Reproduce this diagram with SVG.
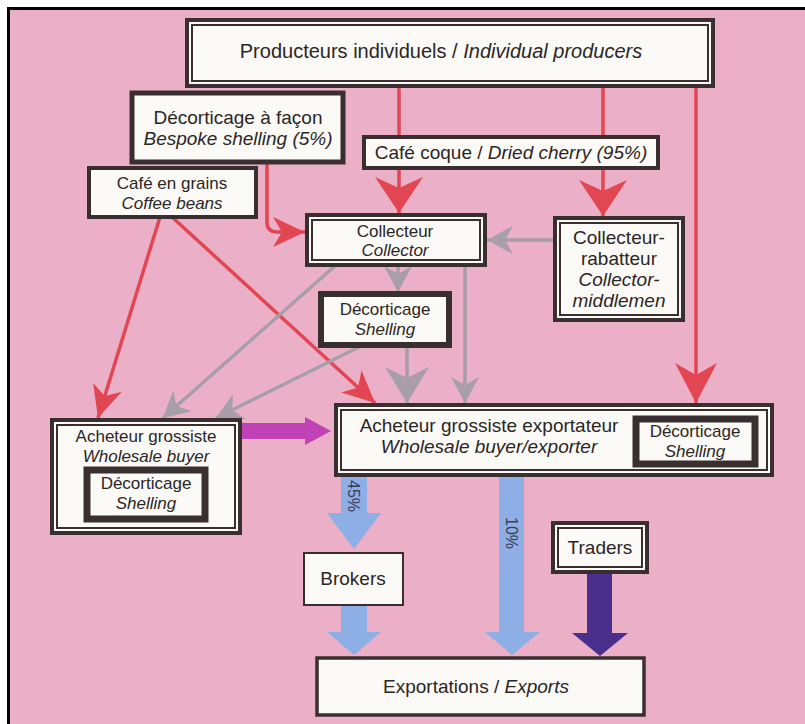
<svg xmlns="http://www.w3.org/2000/svg" width="805" height="724" viewBox="0 0 805 724">
<style>
text{font-family:"Liberation Sans",Arial,sans-serif;font-size:19px;fill:#2b2626;text-anchor:middle}
.s{font-size:17px}
.i{font-style:italic}
.box{fill:#fbfaf6;stroke:#3a2f30}
.o{stroke-width:4}
.in{fill:none;stroke:#3a2f30;stroke-width:2}
.red{fill:none;stroke:#e24652;stroke-width:3.5}
.gray{fill:none;stroke:#a79ea8;stroke-width:3.5}
.rh{fill:#e24652}
.gh{fill:#a79ea8}
.blue{fill:#8eaee6}
.pct{font-size:16px;fill:#3d3d55}
</style>
<defs>
<marker id="rL" markerUnits="userSpaceOnUse" markerWidth="40" markerHeight="48" refX="36" refY="24" orient="auto" overflow="visible"><path class="rh" d="M0,0 L36,24 L0,48 L11,24 Z"/></marker>
<marker id="rM" markerUnits="userSpaceOnUse" markerWidth="42" markerHeight="44" refX="40" refY="21" orient="auto" overflow="visible"><path class="rh" d="M0,0 L40,21 L0,42 L12,21 Z"/></marker>
<marker id="rS" markerUnits="userSpaceOnUse" markerWidth="34" markerHeight="32" refX="32" refY="15" orient="auto" overflow="visible"><path class="rh" d="M0,0 L32,15 L0,30 L9,15 Z"/></marker>
<marker id="gS" markerUnits="userSpaceOnUse" markerWidth="28" markerHeight="30" refX="26" refY="14" orient="auto" overflow="visible"><path class="gh" d="M0,0 L26,14 L0,28 L8,14 Z"/></marker>
<marker id="gL" markerUnits="userSpaceOnUse" markerWidth="38" markerHeight="46" refX="36" refY="22" orient="auto" overflow="visible"><path class="gh" d="M0,0 L36,22 L0,44 L11,22 Z"/></marker>
</defs>
<rect width="805" height="724" fill="#ffffff"/>
<rect x="10" y="10" width="795" height="714" fill="#ebb0c7"/>
<path d="M8.5,724 V8.5 H805" fill="none" stroke="#000" stroke-width="3"/>

<g id="connectors">
<line class="red" x1="399" y1="86" x2="399" y2="213" marker-end="url(#rL)"/>
<line class="red" x1="603" y1="86" x2="603" y2="216" marker-end="url(#rL)"/>
<line class="red" x1="696" y1="86" x2="696" y2="403" marker-end="url(#rM)"/>
<path class="red" d="M267,162 L267,222 Q267,232 277,232 L305,232" marker-end="url(#rS)"/>
<line class="red" x1="160" y1="217" x2="98" y2="418" marker-end="url(#rS)"/>
<line class="red" x1="172" y1="217" x2="375" y2="403" marker-end="url(#rS)"/>
<line class="gray" x1="555" y1="240" x2="487" y2="240" marker-end="url(#gS)"/>
<line class="gray" x1="398" y1="265" x2="398" y2="292" marker-end="url(#gS)"/>
<line class="gray" x1="465" y1="265" x2="465" y2="403" marker-end="url(#gS)"/>
<line class="gray" x1="407" y1="345" x2="407" y2="403" marker-end="url(#gL)"/>
<line class="gray" x1="336" y1="265" x2="163" y2="418" marker-end="url(#gS)"/>
<line class="gray" x1="359" y1="347" x2="216" y2="418" marker-end="url(#gS)"/>
<polygon fill="#c142b6" points="240,423 305,423 305,417 331,431 305,445 305,439 240,439"/>
<polygon class="blue" points="341,475 367,475 367,513 381,513 354,549 327,513 341,513"/>
<polygon class="blue" points="341,605 367,605 367,632 381,632 354,655 327,632 341,632"/>
<polygon class="blue" points="499,475 524,475 524,632 540,632 512,655 485,632 499,632"/>
<polygon fill="#4b2f8c" points="587,573 612,573 612,633 628,633 600,656 572,633 587,633"/>
<text class="pct" transform="translate(354,496) rotate(90)" dy="6">45%</text>
<text class="pct" transform="translate(512,533) rotate(90)" dy="6">10%</text>
</g>

<g id="producteurs">
<rect class="box o" x="187" y="20" width="526" height="66"/>
<rect class="in" x="192" y="25" width="516" height="56"/>
<text x="441" y="58" style="font-size:20px">Producteurs individuels / <tspan class="i">Individual producers</tspan></text>
</g>

<g id="decorticage-facon">
<rect class="box" stroke-width="5" x="132" y="93" width="211" height="69"/>
<text x="238" y="124">Décorticage à façon</text>
<text x="238" y="145" class="i">Bespoke shelling (5%)</text>
</g>

<g id="cafe-coque">
<rect class="box o" x="364" y="137" width="294" height="31"/>
<text x="511" y="159">Café coque / <tspan class="i">Dried cherry (95%)</tspan></text>
</g>

<g id="cafe-grains">
<rect class="box o" x="89" y="168" width="167" height="49"/>
<text x="172" y="189" class="s">Café en grains</text>
<text x="172" y="209" class="s i">Coffee beans</text>
</g>

<g id="collecteur">
<rect class="box o" x="307" y="215" width="178" height="50"/>
<rect class="in" x="312" y="220" width="168" height="40"/>
<text x="395" y="237" class="s">Collecteur</text>
<text x="395" y="256" class="s i">Collector</text>
</g>

<g id="collecteur-rabatteur">
<rect class="box o" x="555" y="218" width="128" height="102"/>
<rect class="in" x="560" y="223" width="118" height="92"/>
<text x="619" y="244">Collecteur-</text>
<text x="619" y="265">rabatteur</text>
<text x="619" y="286" class="i">Collector-</text>
<text x="619" y="307" class="i">middlemen</text>
</g>

<g id="decorticage-milieu">
<rect class="box" stroke-width="6" x="321" y="294" width="128" height="51"/>
<text x="385" y="315" class="s">Décorticage</text>
<text x="385" y="335" class="s i">Shelling</text>
</g>

<g id="acheteur-grossiste">
<rect class="box o" x="52" y="420" width="188" height="113"/>
<rect class="in" x="57" y="425" width="178" height="103"/>
<text x="146" y="442" class="s">Acheteur grossiste</text>
<text x="146" y="462" class="s i">Wholesale buyer</text>
<rect class="box" stroke-width="7" x="87" y="470" width="118" height="49"/>
<text x="146" y="489" class="s">Décorticage</text>
<text x="146" y="509" class="s i">Shelling</text>
</g>

<g id="exportateur">
<rect class="box o" x="336" y="405" width="436" height="70"/>
<rect class="in" x="341" y="410" width="426" height="60"/>
<text x="489" y="432">Acheteur grossiste exportateur</text>
<text x="489" y="453" class="i">Wholesale buyer/exporter</text>
<rect class="box" stroke-width="7" x="636" y="419" width="119" height="45"/>
<text x="695" y="437" class="s">Décorticage</text>
<text x="695" y="457" class="s i">Shelling</text>
</g>

<g id="brokers">
<rect class="box" stroke-width="2" x="304" y="553" width="99" height="52"/>
<text x="353" y="585">Brokers</text>
</g>

<g id="traders">
<rect class="box o" x="553" y="523" width="94" height="49"/>
<rect class="in" x="558" y="528" width="84" height="39"/>
<text x="600" y="554">Traders</text>
</g>

<g id="exportations">
<rect class="box" stroke-width="3.5" x="317" y="658" width="327" height="57"/>
<text x="476" y="693">Exportations / <tspan class="i">Exports</tspan></text>
</g>
</svg>
